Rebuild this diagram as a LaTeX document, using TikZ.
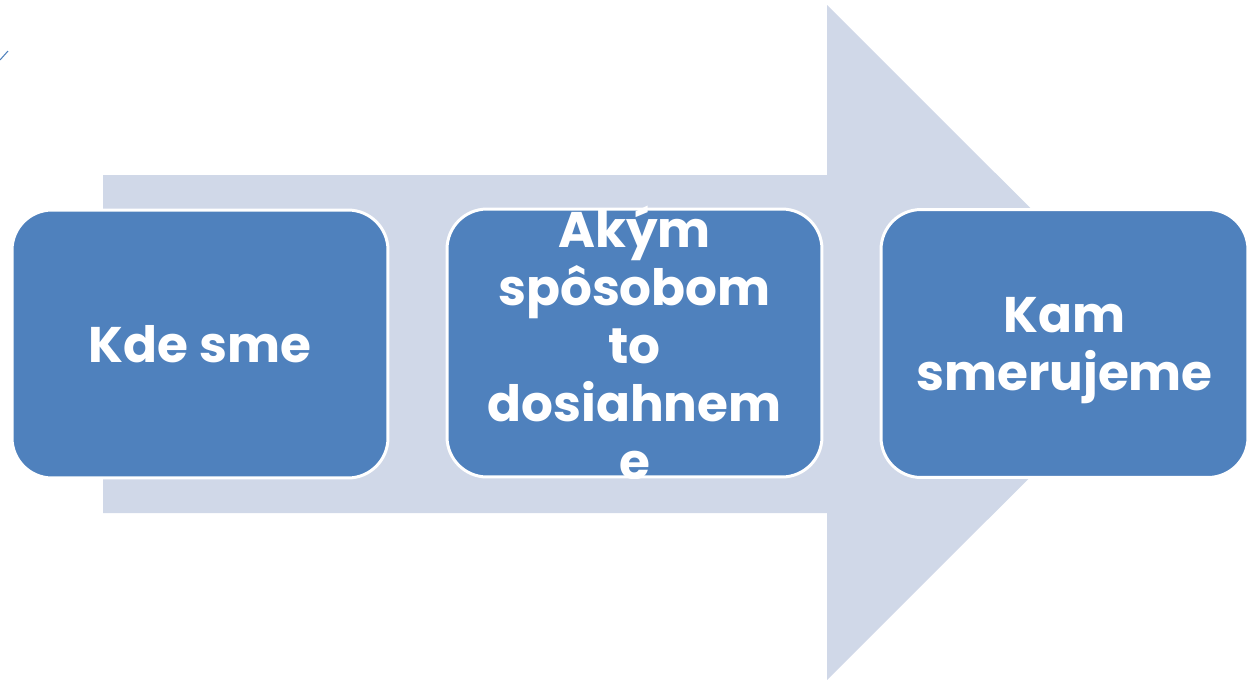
\documentclass[tikz,border=0pt]{standalone}
\usepackage{fontspec}
\setmainfont{Poppins}
\usepackage{tikz}
\usetikzlibrary{positioning}

\definecolor{stageblue}{HTML}{4F81BD}
\definecolor{arrowgray}{HTML}{D0D8E8}

\begin{document}
\begin{tikzpicture}[
    x=0.02cm, y=-0.02cm,
    font=\fontsize{28.5}{33}\selectfont\bfseries,
    stage/.style    ={draw=white, line width=1.7pt, fill=stageblue,
                      rounded corners=0.8cm, minimum height=5.36cm,
                      text=white, align=center, inner sep=0pt},
    stagetext/.style={text=white, align=center, inner sep=0pt}
]

\useasboundingbox (0,0) rectangle (1249,680);

% --- Big background arrow behind the three stages. ---
\fill[arrowgray] (103,175) -- (827,175) -- (827,5) -- (1165,342.5)
                 -- (827,680) -- (827,513) -- (103,513) -- cycle;

% --- Stray stroke at the top-left edge. ---
\draw[stageblue, line width=0.6pt] (0,60) -- (8,51);

% --- Three stages on one row. ---
\node[stage, minimum width=7.52cm] (now)  at ( 200.0,344.0) {Kde sme};
\node[stage, minimum width=7.50cm] (how)  at ( 634.5,343.0) {};
\node[stage, minimum width=7.34cm] (goal) at (1064.5,343.5) {};

% --- Right text sits a little low in its box. ---
\node[stagetext] (goaltext) at ([yshift=-0.14cm]goal.center) {Kam\\smerujeme};

% --- Middle text overflows; cut at the bottom of its box. ---
\begin{scope}
  \clip (how.west |- 0,185) rectangle (how.south east);
  \node[stagetext] (howtext) at (how) {Akým\\spôsobom\\to\\dosiahnem\\e};
\end{scope}

\end{tikzpicture}
\end{document}
